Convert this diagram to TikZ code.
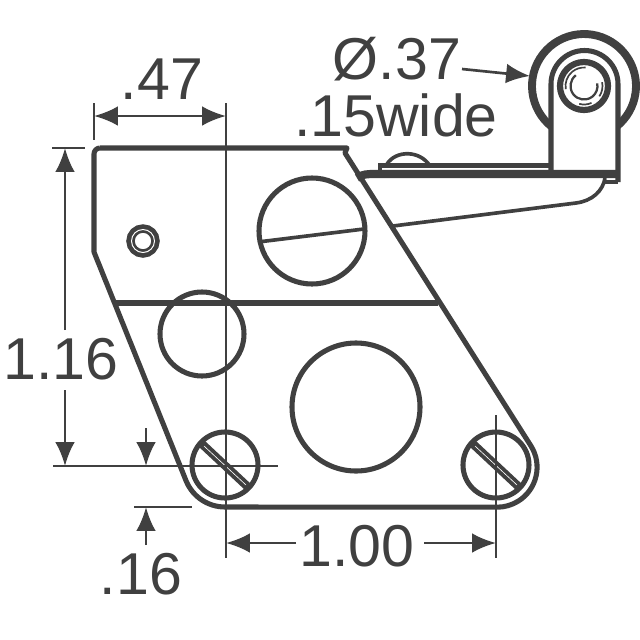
\documentclass[tikz,border=0pt]{standalone}
\usepackage{fontspec}
\setmainfont{Liberation Sans}
\usetikzlibrary{arrows.meta,calc}
\definecolor{mygray}{rgb}{.25,.25,.25}
\tikzset{
  part/.style={draw=mygray,line width=3.6pt},
  thinpart/.style={draw=mygray,line width=2.6pt},
  dimline/.style={draw=mygray,line width=1.9pt},
  dimarrow/.style={dimline,-{Latex[length=17pt,width=14pt]}},
  dimtext/.style={text=mygray,font=\fontsize{42}{42}\selectfont,inner sep=0pt}
}
\begin{document}
\begin{tikzpicture}[x=0.025cm,y=-0.025cm]
    \useasboundingbox (0,0) rectangle (640,640);
    \coordinate (HubCenter) at (584,86);
    \coordinate (ScrewL) at (225,465);
    \coordinate (ScrewR) at (496,465);

    % body
    \draw[part,line join=round] (100,148) -- (347,148) -- (345,153) -- (531,446)
        arc (-32:90:40) -- (225,507)
        arc (90:157:42) -- (94,252) -- (94,154) arc (180:270:6);
    \draw[part] (113,303) -- (438,303);

    % holes
    \draw[part] (312,231) circle (53);
    \draw[thinpart] (258,242) -- (364,229);
    \draw[part] (202,334) circle (42);
    \draw[part] (356,407) circle (64);
    \draw[draw=mygray,line width=6pt] (143,241) circle (12.5);
    \draw[draw=white,line width=.7pt] (143,241) circle (11.5);

    % screws
    \foreach \s in {ScrewL,ScrewR}{%
      \draw[part] (\s) circle (33);
      \draw[draw=mygray,line width=6pt] ($(\s)+(-23,-21)$) -- ($(\s)+(23,22)$);
      \draw[draw=white,line width=.45pt] ($(\s)+(-21,-19)$) -- ($(\s)+(21,20)$);
    }

    % roller
    \draw[draw=mygray,line width=5.6pt] (HubCenter) +(128:52) arc (128:412:52);
    \draw[part,fill=white] (551,174) -- (551,84) arc (180:360:33.5) -- (618,182);
    \draw[draw=mygray,line width=4.4pt] (HubCenter) circle (24);
    \draw[draw=mygray,line width=1.2pt] (HubCenter) +(-12:18.5) arc (-12:34:18.5);
    \draw[draw=mygray,line width=1.2pt] (HubCenter) +(66:18.5) arc (66:105:18.5);
    \draw[draw=mygray,line width=1.2pt] (HubCenter) +(170:18.5) arc (170:275:18.5);
    \draw[draw=mygray,line width=1.6pt] (HubCenter) +(233:13.5) arc (233:-11:13.5);

    % lever arm
    \draw[draw=mygray,line width=5.8pt] (357,178) .. controls (362,174) and (368,174) .. (375,174) -- (618,174);
    \draw[draw=mygray,line width=3.4pt] (380,177) -- (380,165.5) -- (551,165.5);
    \draw[thinpart] (387,164) .. controls (396,150) and (420,150) .. (430,166);
    \draw[thinpart] (393,226) -- (576,203) .. controls (592,201) and (603,191) .. (605,178);
    \draw[thinpart] (605,182) -- (618,182);

    % dimensions
    \coordinate (Dim47L) at (94,116);
    \coordinate (Dim47R) at (226,116);
    \draw[dimline] (94,103) -- (94,140);
    \draw[dimline] (226,103) -- (226,558);
    \draw[dimarrow] (160,116) -- (Dim47L);
    \draw[dimarrow] (160,116) -- (Dim47R);

    \draw[dimline] (52,148) -- (85,148);
    \draw[dimline] (53,466) -- (278,466);
    \coordinate (Dim116T) at (65,148);
    \coordinate (Dim116B) at (65,466);
    \draw[dimarrow] (65,330) -- (Dim116T);
    \draw[dimarrow] (65,390) -- (Dim116B);

    \draw[dimline] (134,507) -- (192,507);
    \coordinate (Dim16T) at (146,466);
    \coordinate (Dim16B) at (146,507);
    \draw[dimarrow] (146,428) -- (Dim16T);
    \draw[dimarrow] (146,545) -- (Dim16B);

    \draw[dimline] (496,415) -- (496,558);
    \coordinate (Dim100L) at (226,543);
    \coordinate (Dim100R) at (496,543);
    \draw[dimarrow] (296,543) -- (Dim100L);
    \draw[dimarrow] (424,543) -- (Dim100R);

    \coordinate (RollerEdge) at (530,76);
    \draw[dimarrow] (462,69) -- (RollerEdge);

    \node[dimtext] (lab47) at (162,79) {.47};
    \node[dimtext] (labdia) at (397,59) {Ø.37};
    \node[dimtext] (labwide) at (396,115) {.15wide};
    \node[dimtext] (lab116) at (61,359) {1.16};
    \node[dimtext] (lab100) at (357,546) {1.00};
    \node[dimtext] (lab16) at (141,574) {.16};
\end{tikzpicture}
\end{document}
